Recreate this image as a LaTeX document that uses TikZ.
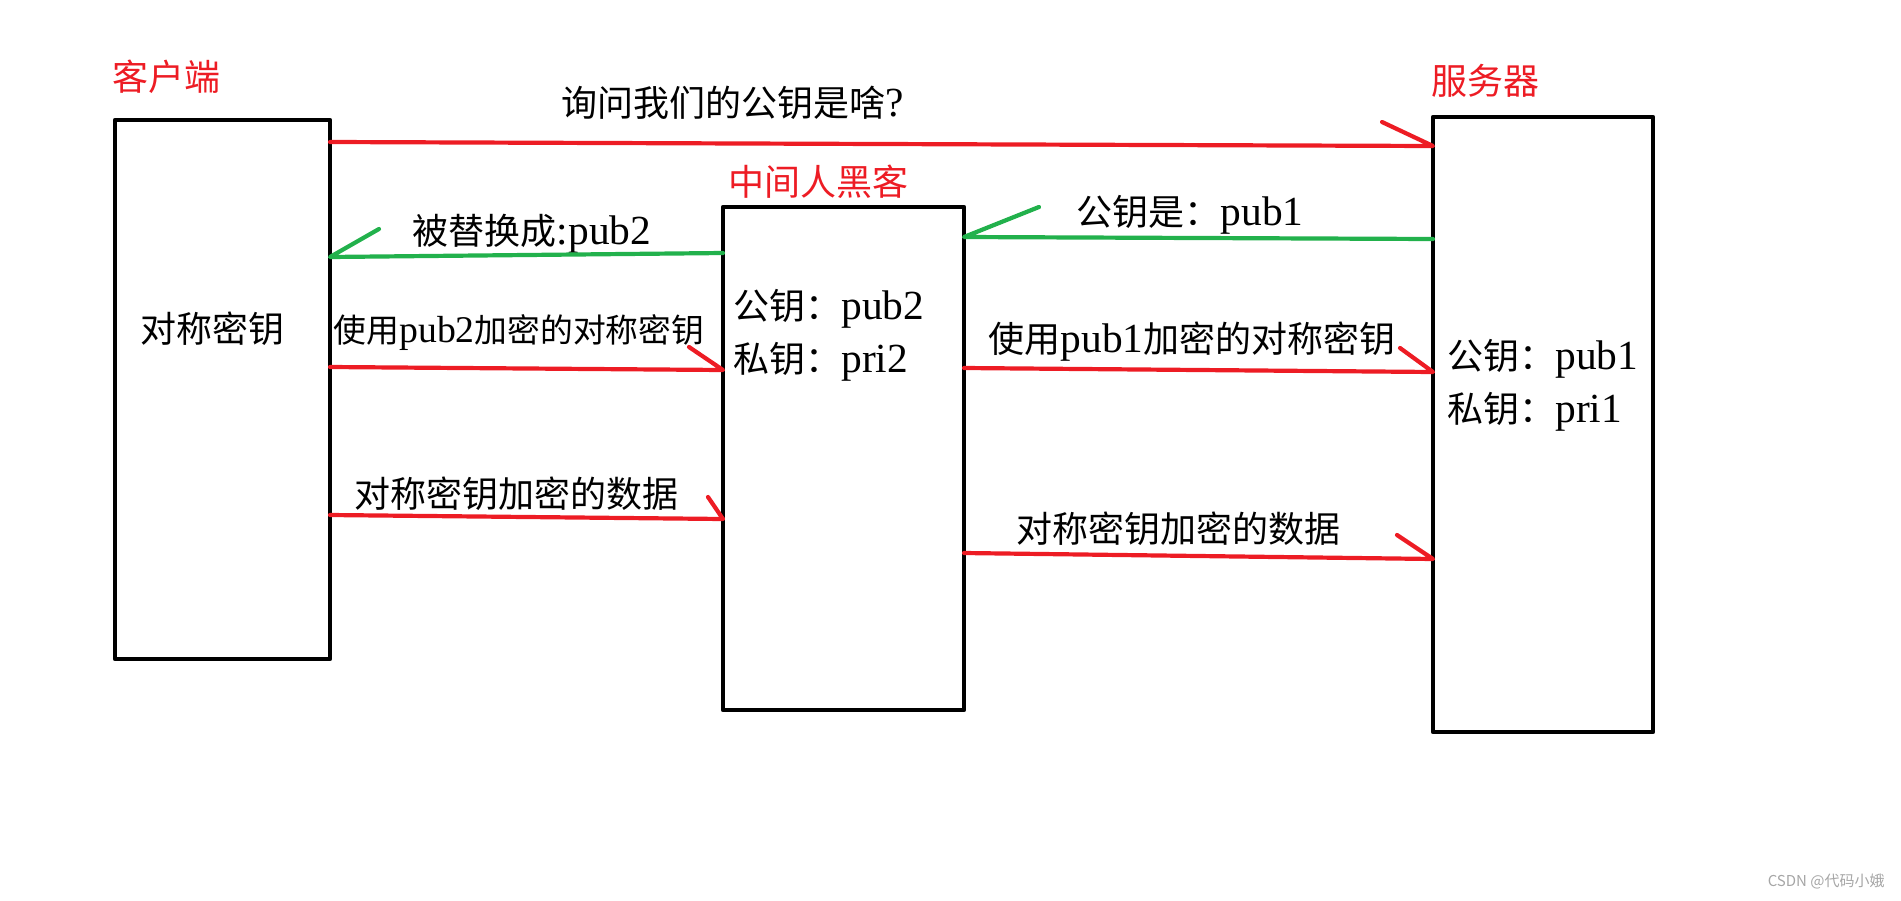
\documentclass[tikz,border=0pt]{standalone}
\usepackage{fontspec}
\setmainfont{Noto Sans CJK SC}
\newfontfamily\serifen[Scale=1.15]{Liberation Serif}
\definecolor{hred}{HTML}{ED1C24}
\definecolor{hgreen}{HTML}{22B14C}
\begin{document}
\begin{tikzpicture}[x=0.5pt, y=-0.5pt, line join=round, line cap=round, font=\fontsize{18}{21}\selectfont]
		\tikzset{box/.style={draw, line width=2.25pt, inner sep=0pt, outer sep=0pt},
			role/.style={text=hred, inner sep=0pt},
			msg/.style={inner sep=0pt},
			req/.style={draw=hred, line width=2.1pt},
			ans/.style={draw=hgreen, line width=2.1pt}}
		\useasboundingbox (0,0) rectangle (1901,900);
		\node[box, minimum width=107.5pt, minimum height=269.5pt] (client) at (222.5,389.5) {};
		\node[box, minimum width=120.5pt, minimum height=251.5pt] (hacker) at (843.5,458.5) {};
		\node[box, minimum width=110pt, minimum height=307.5pt] (server) at (1543,424.5) {};
		\node[role] (clientname) at (166,77) {客户端};
		\node[role] (hackername) at (818,182) {中间人黑客};
		\node[role] (servername) at (1485,81) {服务器};
		\node[msg] (clientkey) at (212,329) {对称密钥};
		\node[msg, anchor=west] (hackpub) at (733,309) {公钥：{\serifen pub2}};
		\node[msg, anchor=west] (hackpri) at (733,362) {私钥：{\serifen pri2}};
		\node[msg, anchor=west] (servpub) at (1447,359) {公钥：{\serifen pub1}};
		\node[msg, anchor=west] (servpri) at (1447,412) {私钥：{\serifen pri1}};
		\node[msg] (ask) at (733,103) {询问我们的公钥是啥{\serifen ?}};
		\node[msg] (fake) at (532,234) {被替换成{\serifen :pub2}};
		\node[msg] (real) at (1190,215) {公钥是：{\serifen pub1}};
		\node[msg, font=\fontsize{16.4}{19}\selectfont] (enc2) at (519,333) {使用{\serifen pub2}加密的对称密钥};
		\node[msg, font=\fontsize{18}{21}\selectfont] (enc1) at (1192,342) {使用{\serifen pub1}加密的对称密钥};
		\node[msg] (data2) at (516,494) {对称密钥加密的数据};
		\node[msg] (data1) at (1178,529) {对称密钥加密的数据};
		\node[msg, anchor=east, text=gray!70, font=\fontsize{7.5}{9}\selectfont] (mark) at (1885,882) {CSDN @代码小娥};
		\draw[req] (client.east |- 0,142) -- (server.west |- 0,146) -- ++(-51,-24);
		\draw[ans] (hacker.west |- 0,253) -- (client.east |- 0,257) -- ++(49,-28);
		\draw[ans] (server.west |- 0,239) -- (hacker.east |- 0,237) -- ++(75,-30);
		\draw[req] (client.east |- 0,367) -- (hacker.west |- 0,370) -- ++(-34,-23);
		\draw[req] (hacker.east |- 0,368) -- (server.west |- 0,372) -- ++(-33,-24);
		\draw[req] (client.east |- 0,515) -- (hacker.west |- 0,519) -- ++(-15,-22);
		\draw[req] (hacker.east |- 0,553) -- (server.west |- 0,559) -- ++(-36,-24);
		\end{tikzpicture}
\end{document}
